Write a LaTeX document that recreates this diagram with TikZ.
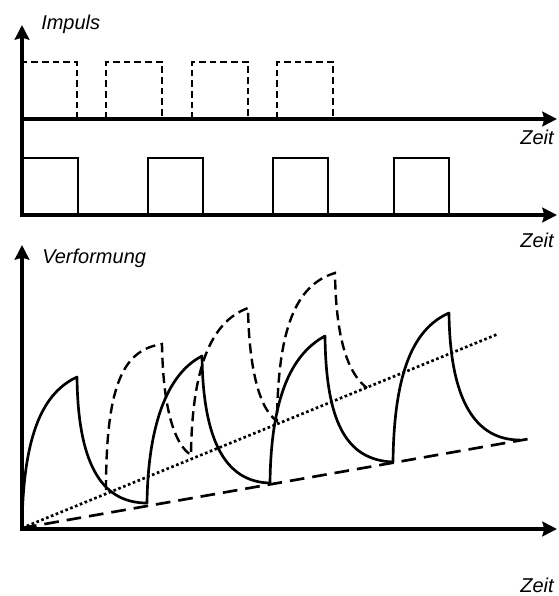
\documentclass[tikz,border=0pt]{standalone}
\usepackage{fontspec}
\setmainfont{Liberation Sans}
\usetikzlibrary{arrows.meta}

\begin{document}
\begin{tikzpicture}[
    x=0.75pt, y=-0.75pt,
    axis/.style={-{Stealth[length=11pt, width=11pt, inset=1.5pt]}, line width=2.9pt},
    axistext/.style={font=\itshape\fontsize{15}{18}\selectfont, inner sep=0pt},
    pulse/.style={line width=1.7pt},
    dpulse/.style={line width=1.7pt, dash pattern=on 5pt off 3pt},
    curve/.style={line width=2pt, line join=round},
    dcurve/.style={line width=1.8pt, dash pattern=on 7.5pt off 4pt},
    envelope/.style={line width=2pt, dash pattern=on 11pt off 6pt},
    trend/.style={line width=2pt, dash pattern=on 2pt off 1.9pt}
]
\useasboundingbox (0,0) rectangle (558,596);

\coordinate (impulsbase) at (22,216.9);
\coordinate (impulstop) at (22,25);
\coordinate (zeit1start) at (20,119);
\coordinate (zeit1end) at (557,119);
\coordinate (zeit2start) at (20,215);
\coordinate (zeit2end) at (557,215);
\coordinate (verfbase) at (22,530.9);
\coordinate (verftop) at (22,245);
\coordinate (zeit3start) at (20,529);
\coordinate (zeit3end) at (557,529);
\coordinate (origin) at (22,528);

\draw[dpulse] (77,119) -- (77,62) -- (24,62);
\draw[dpulse] (106,119) -- (106,62) -- (162,62) -- (162,119);
\draw[dpulse] (192,119) -- (192,62) -- (248,62) -- (248,119);
\draw[dpulse] (277,119) -- (277,62) -- (333,62) -- (333,119);

\draw[pulse] (22,158) -- (78,158) -- (78,215);
\draw[pulse] (148,215) -- (148,158) -- (203,158) -- (203,215);
\draw[pulse] (273,215) -- (273,158) -- (328,158) -- (328,215);
\draw[pulse] (394,215) -- (394,158) -- (449,158) -- (449,215);

\draw[axis] (impulsbase) -- (impulstop);
\draw[axis] (zeit1start) -- (zeit1end);
\draw[axis] (zeit2start) -- (zeit2end);

\node[axistext, anchor=base west] (impuls) at (41,29.5) {Impuls};
\node[axistext, anchor=base east] (zeit1) at (554,144.5) {Zeit};
\node[axistext, anchor=base east] (zeit2) at (554,247.5) {Zeit};

\draw[trend] (origin) -- (498,334);
\draw[envelope] (origin) -- (528,439);

\draw[dcurve] (106,490) .. controls (106,380) and (125,350) .. (162,344)
    -- (162,344) .. controls (163,410) and (175,445) .. (191,455)
    .. controls (192,370) and (210,322) .. (248,308)
    .. controls (249,370) and (260,410) .. (277,421)
    .. controls (278,330) and (295,285) .. (335,273)
    .. controls (336,345) and (350,375) .. (367,388);

\draw[curve] (origin) .. controls (23,430) and (45,392) .. (77,377)
    .. controls (78,470) and (105,503) .. (147,503)
    .. controls (148,430) and (165,375) .. (202,356)
    .. controls (203,440) and (225,482) .. (270,483)
    .. controls (271,400) and (290,355) .. (325,336)
    .. controls (326,420) and (345,460) .. (393,462)
    .. controls (394,380) and (410,330) .. (449,313)
    .. controls (450,400) and (475,440) .. (520,440);

\draw[axis] (verfbase) -- (verftop);
\draw[axis] (zeit3start) -- (zeit3end);

\node[axistext, anchor=base west] (verformung) at (42,263) {Verformung};
\node[axistext, anchor=base east] (zeit3) at (554,592) {Zeit};

\end{tikzpicture}
\end{document}
